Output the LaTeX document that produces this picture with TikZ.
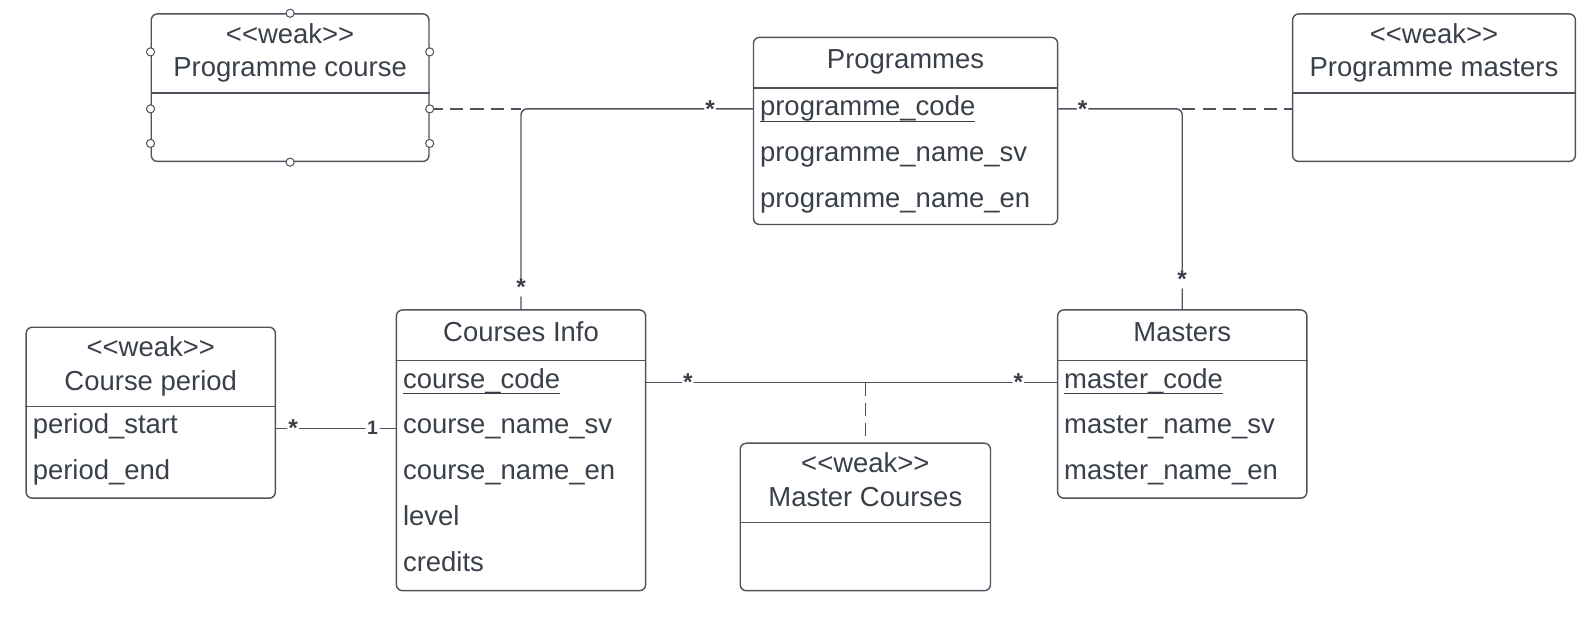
\documentclass[tikz,border=0pt]{standalone}
\usepackage{fontspec}
\setmainfont{Liberation Sans}
\definecolor{ink}{RGB}{58,64,74}
\definecolor{edgecol}{RGB}{78,84,94}
\newcommand{\pkey}[1]{\setbox0=\hbox{#1}\rlap{\color{ink}\rule[-6pt]{\wd0}{1.4pt}}\box0}
\begin{document}
\begin{tikzpicture}[x=1pt,y=-1pt,line width=1.4pt,
    entity/.style={draw=edgecol,rounded corners=6pt,inner sep=0pt,anchor=north west},
    head/.style={inner sep=0pt,anchor=north,align=center,text=ink,font=\fontsize{27}{33}\selectfont,execute at end node=\vphantom{Pg}},
    attr/.style={inner sep=0pt,anchor=base west,text=ink,font=\fontsize{27}{33}\selectfont},
    link/.style={draw=edgecol,rounded corners=6pt},
    assoc/.style={draw=edgecol,dash pattern=on 13pt off 7pt},
    mult/.style={fill=white,inner sep=1.5pt,text=ink,font=\fontsize{19}{19}\bfseries\selectfont},
    many/.style={mult,inner sep=1pt,font=\fontsize{24}{24}\bfseries\selectfont},
    handle/.style={draw=edgecol,fill=white,line width=1pt}]
    \useasboundingbox (0,0) rectangle (1568,623.3);

    % weak entities on top
    \node[entity,minimum width=273,minimum height=145] at (148,13) (pc) {};
    \node[head,minimum height=77] at (pc.north) (pchead) {<{}<weak>{}>\\Programme course};
    \draw[draw=edgecol] (pc.west |- pchead.south) -- (pc.east |- pchead.south);

    \node[entity,minimum width=278,minimum height=145] at (1270,13) (pm) {};
    \node[head,minimum height=77] at (pm.north) (pmhead) {<{}<weak>{}>\\Programme masters};
    \draw[draw=edgecol] (pm.west |- pmhead.south) -- (pm.east |- pmhead.south);

    % programmes
    \node[entity,minimum width=299,minimum height=184] at (740,36) (p) {};
    \node[head,minimum height=49] at (p.north) (phead) {Programmes};
    \draw[draw=edgecol] (p.west |- phead.south) -- (p.east |- phead.south);
    \node[attr] at (746.5,114) (pcode) {\pkey{programme\_code}};
    \node[attr] at (746.5,159) (psv) {programme\_name\_sv};
    \node[attr] at (746.5,204) (pen) {programme\_name\_en};

    % course period
    \node[entity,minimum width=245,minimum height=168] at (25,321) (cp) {};
    \node[head,minimum height=77] at (cp.north) (cphead) {<{}<weak>{}>\\Course period};
    \draw[draw=edgecol] (cp.west |- cphead.south) -- (cp.east |- cphead.south);
    \node[attr] at (31.5,426.5) (pstart) {period\_start};
    \node[attr] at (31.5,471.5) (pend) {period\_end};

    % courses info
    \node[entity,minimum width=245,minimum height=276] at (389,304) (ci) {};
    \node[head,minimum height=49] at (ci.north) (cihead) {Courses Info};
    \draw[draw=edgecol] (ci.west |- cihead.south) -- (ci.east |- cihead.south);
    \node[attr] at (395.5,381.5) (ccode) {\pkey{course\_code}};
    \node[attr] at (395.5,426.5) (csv) {course\_name\_sv};
    \node[attr] at (395.5,471.5) (cen) {course\_name\_en};
    \node[attr] at (395.5,516.5) (clevel) {level};
    \node[attr] at (395.5,561.5) (ccred) {credits};

    % masters
    \node[entity,minimum width=245,minimum height=185] at (1039,304) (m) {};
    \node[head,minimum height=49] at (m.north) (mhead) {Masters};
    \draw[draw=edgecol] (m.west |- mhead.south) -- (m.east |- mhead.south);
    \node[attr] at (1045.5,381.5) (mcode) {\pkey{master\_code}};
    \node[attr] at (1045.5,426.5) (msv) {master\_name\_sv};
    \node[attr] at (1045.5,471.5) (men) {master\_name\_en};

    % master courses
    \node[entity,minimum width=246,minimum height=145] at (727,435) (mc) {};
    \node[head,minimum height=77] at (mc.north) (mchead) {<{}<weak>{}>\\Master Courses};
    \draw[draw=edgecol] (mc.west |- mchead.south) -- (mc.east |- mchead.south);

    % connectors
    \coordinate (jpc) at (ci.north |- 0,107);
    \coordinate (jpm) at (m.north |- 0,107);
    \coordinate (jmc) at (mc.north |- 0,376);
    \coordinate (jcp) at (cp.east |- 0,421);

    \draw[link] (p.west |- jpc) -| (ci.north)
        node[many,pos=0.092] (s1) {*} node[many,pos=0.945] (s2) {*};
    \draw[link] (p.east |- jpm) -| (m.north)
        node[many,pos=0.098] (s3) {*} node[many,pos=0.925] (s4) {*};
    \draw[link] (ci.east |- jmc) -- (m.west |- jmc)
        node[many,pos=0.101] (s5) {*} node[many,pos=0.906] (s6) {*};
    \draw[link] (jcp) -- (ci.west |- jcp)
        node[many,pos=0.143] (s7) {*} node[mult,pos=0.807] (s8) {1};
    \draw[assoc] (pc.east |- jpc) -- (jpc);
    \draw[assoc] (jpm) -- (pm.west |- jpm);
    \draw[assoc] (jmc) -- (mc.north);

    % selection handles
    \draw[handle] (pc.north) circle[radius=4pt] (pc.south) circle[radius=4pt]
        (pc.west |- 0,51) circle[radius=4pt] (pc.west |- 0,107) circle[radius=4pt] (pc.west |- 0,141) circle[radius=4pt]
        (pc.east |- 0,51) circle[radius=4pt] (pc.east |- 0,107) circle[radius=4pt] (pc.east |- 0,141) circle[radius=4pt];
\end{tikzpicture}
\end{document}
